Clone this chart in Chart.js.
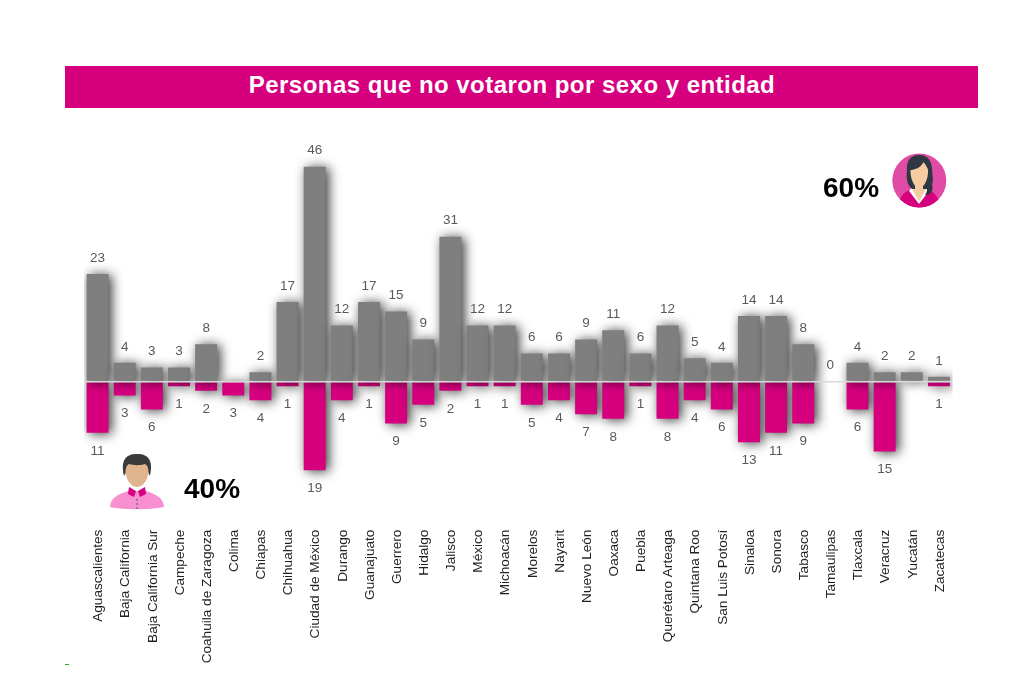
<!DOCTYPE html>
<html lang="es"><head><meta charset="utf-8">
<style>
html,body{margin:0;padding:0;background:#fff;width:1024px;height:684px;overflow:hidden;font-family:"Liberation Sans",Arial,sans-serif}
#wrap{position:relative;width:1024px;height:684px}
#c{position:absolute;left:0;top:0}
#band{position:absolute;left:65px;top:66px;width:894px;padding-right:19px;height:42px;background:#D6007F;color:#fff;font-weight:bold;font-size:24px;letter-spacing:.47px;line-height:38px;text-align:center;white-space:nowrap}
.pct{position:absolute;font-weight:bold;font-size:28px;line-height:32px;color:#000}
svg{position:absolute}
#speck{position:absolute;left:65px;top:664px;width:4px;height:1px;background:#3a9a3a}
</style></head><body>
<div id="wrap">
<canvas id="c" width="1024" height="684" style="width:1024px;height:684px"></canvas>
<div id="band">Personas que no votaron por sexo y entidad</div>
<div class="pct" style="left:823px;top:172px">60%</div>
<div class="pct" style="left:184px;top:473px">40%</div>
<svg style="left:890px;top:151px" width="58" height="58" viewBox="890 151 58 58">
<circle cx="919.3" cy="180.5" r="27" fill="#E04BA5"/>
<clipPath id="cc"><circle cx="919.3" cy="180.5" r="27"/></clipPath>
<g clip-path="url(#cc)">
<path d="M898 208 C899 197 903 193 911 189 L927 189 C935 193 939 197 941 208 Z" fill="#D6007F"/>
<path d="M909 191 L919 204 L929 191 L926 187 L912 187 Z" fill="#fff"/>
<path d="M911 187 L919 201.5 L927 187 Z" fill="#F6CBA0"/>
<path d="M920 155 C911 154 906 161 907 170 C906 178 907 185 912 189 L927 189 C927 192 926 193 925 195 C931 195 934 190 932 185 C934 180 932 174 932 168 C931 160 927 155 920 155 Z" fill="#2F3743"/>
<path d="M910.5 170 C914 170 921 168 923.5 162 C926 165 927.5 168 928 170 C928.5 178 925 187 919 189 C914 187 910 178 910.5 170 Z" fill="#F6CBA0"/>
<path d="M915 185 L923 185 L923 192 L919 200 L915 192 Z" fill="#F6CBA0"/>
</g>
</svg>
<svg style="left:108px;top:452px" width="60" height="60" viewBox="108 452 60 60">
<path d="M110 507 C111 498 116 495 128 491 L146 491 C158 495 163 498 164 507 C150 510 124 510 110 507 Z" fill="#F88FD0"/>
<path d="M125 467 C125 478 130 487 137 487 C144 487 149 478 149 467 L147 461 L127 461 Z" fill="#E0B48C"/>
<path d="M129 487 L136 491 L134 497 L128 494 Z M145 487 L138 491 L140 497 L146 494 Z" fill="#D6007F"/>
<path d="M124 476 C121 462 124 454 137 454 C150 454 153 462 150 476 L148.5 473 C148.5 468 147.5 465 145 464 C139 466 133 465 129 464 C126.5 465 125.5 468 125.5 473 Z" fill="#3A3A3A"/>
<circle cx="137" cy="500" r="1" fill="#777"/><circle cx="137" cy="504" r="1" fill="#777"/><circle cx="137" cy="508" r="1" fill="#777"/>
</svg>
<div id="speck"></div>
</div>
<script src="https://cdn.jsdelivr.net/npm/chart.js@4"></script>
<script>
const categories = ["Aguascalientes","Baja California","Baja California Sur","Campeche","Coahuila de Zaragoza","Colima","Chiapas","Chihuahua","Ciudad de México","Durango","Guanajuato","Guerrero","Hidalgo","Jalisco","México","Michoacán","Morelos","Nayarit","Nuevo León","Oaxaca","Puebla","Querétaro Arteaga","Quintana Roo","San Luis Potosí","Sinaloa","Sonora","Tabasco","Tamaulipas","Tlaxcala","Veracruz","Yucatán","Zacatecas"];
const mujeres = [23,4,3,3,8,null,2,17,46,12,17,15,9,31,12,12,6,6,9,11,6,12,5,4,14,14,8,0,4,2,2,1];
const hombres = [11,3,6,1,2,3,4,1,19,4,1,9,5,2,1,1,5,4,7,8,1,8,4,6,13,11,9,null,6,15,null,1];
const hombresNeg = hombres.map(v => v === null ? null : -v);

const barShadow = {
  id:'barShadow',
  beforeDatasetDraw(chart){const c=chart.ctx;c.save();c.shadowColor='rgba(0,0,0,.8)';c.shadowBlur=12;c.shadowOffsetX=3;c.shadowOffsetY=1;},
  afterDatasetDraw(chart){chart.ctx.restore();}
};
const valueLabels = {
  id:'valueLabels',
  afterDatasetsDraw(chart){
    const c=chart.ctx;c.save();
    c.font='13.5px "Liberation Sans"';c.fillStyle='#595959';c.textAlign='center';c.textBaseline='middle';
    chart.data.datasets.forEach((ds,i)=>{
      chart.getDatasetMeta(i).data.forEach((bar,j)=>{
        const v=ds.data[j];
        if(v===null)return;
        c.fillText(String(Math.abs(v)),bar.x,bar.y+(i===0?-16:18));
      });
    });
    c.restore();
  }
};
new Chart(document.getElementById('c'),{
  type:'bar',
  data:{labels:categories,datasets:[
    {label:'Mujeres',data:mujeres,backgroundColor:'#7F7F7F'},
    {label:'Hombres',data:hombresNeg,backgroundColor:'#D6007F'}
  ]},
  options:{
    responsive:false,animation:false,
    layout:{padding:{left:84,right:71.5,top:148,bottom:0}},
    datasets:{bar:{categoryPercentage:1,barPercentage:.81}},
    plugins:{legend:{display:false},title:{display:false},tooltip:{enabled:false}},
    scales:{
      x:{stacked:true,grid:{display:false},border:{display:false},
        afterFit(s){s.height=162.4;},
        ticks:{autoSkip:false,minRotation:90,maxRotation:90,padding:0,labelOffset:1,color:'#1f1f1f',font:{family:'"Liberation Sans"',size:13.6}}},
      y:{stacked:true,min:-30,max:50,afterFit(s){s.width=0;},
        border:{display:false},
        grid:{z:1,drawTicks:false,lineWidth:1.6,color:c=>c.tick&&c.tick.value===0?'#D9D9D9':'rgba(0,0,0,0)'},
        ticks:{display:false,stepSize:10}}
    }
  },
  plugins:[barShadow,valueLabels]
});
</script>
</body></html>
